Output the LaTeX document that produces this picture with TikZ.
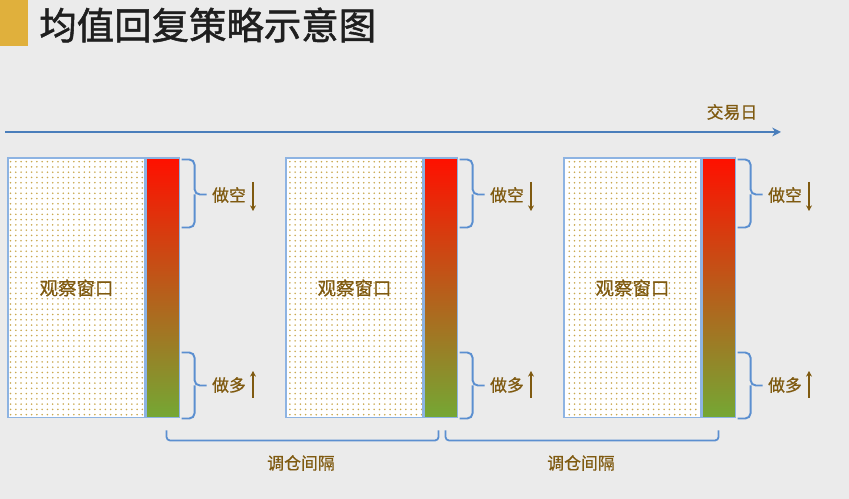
\documentclass[tikz,border=0pt]{standalone}
\usepackage{fontspec}
\setmainfont{Noto Sans CJK SC}[FakeBold=0.6]
\newfontfamily\titlefont{Noto Sans CJK SC}[FakeBold=1.4]
\usetikzlibrary{positioning,calc,arrows.meta,patterns}
\definecolor{bgGray}{HTML}{EBEBEB}
\definecolor{titleGold}{HTML}{E0B03C}
\definecolor{lineBlue}{HTML}{4A7EBB}
\definecolor{braceBlue}{HTML}{5B8FD0}
\definecolor{boxBlue}{HTML}{8DB3E2}
\definecolor{labelBrown}{HTML}{7F5A10}
\definecolor{dotGold}{HTML}{C9A84E}
\definecolor{barRed}{HTML}{FF1000}
\definecolor{barMid}{HTML}{AC6414}
\definecolor{barGreen}{HTML}{74A834}
\tikzset{
  winbox/.style={draw=boxBlue, line width=0.6pt, minimum width=2.74cm, minimum height=5.2cm,
    inner sep=0pt, preaction={fill=white}, pattern=dots, pattern color=dotGold,
    text=labelBrown, font=\fontsize{10.5}{12}\selectfont},
  barbox/.style={draw=boxBlue, line width=0.6pt, minimum width=0.66cm, minimum height=5.2cm,
    inner sep=0pt, top color=barRed, middle color=barMid, bottom color=barGreen},
  lbl/.style={text=labelBrown, font=\fontsize{9.6}{11}\selectfont, inner sep=1pt},
  sidebrace/.style={draw=braceBlue, line width=1.1pt, rounded corners=3pt},
  gapbracket/.style={draw=braceBlue, line width=1pt, rounded corners=2pt},
  tickarrow/.style={draw=labelBrown, line width=0.8pt, -{Stealth[length=3.2pt,width=3.4pt]}},
  timeline/.style={draw=lineBlue, line width=1.1pt, -{Stealth[length=5pt,width=5pt]}}
}
\begin{document}
\begin{tikzpicture}[x=0.02cm, y=-0.02cm]
  % Background
  \fill[bgGray] (0,0) rectangle (849,499);
  \useasboundingbox (0,0) rectangle (849,499);
  % Title
  \fill[titleGold] (0,0) rectangle (28,46);
  \node[anchor=west, text=black!88, font=\titlefont\fontsize{21.3}{25}\selectfont, inner sep=0pt] (title) at (39,25) {均值回复策略示意图};
  % Trading days
  \coordinate (tstart) at (5,132);
  \coordinate (tend) at (781,132);
  \draw[timeline] (tstart) -- (tend);
  \node[lbl] (tday) at (732,112) {交易日};
  % First window
  \node[winbox] (win1) at (76.5,288) {观察窗口};
  \node[barbox, right=0pt of win1] (bar1) {};
  \draw[sidebrace] ($(bar1.north east)+(2,2)$) -| ($(bar1.north east)+(15,37)$) -- ($(bar1.north east)+(27,37)$);
  \draw[sidebrace] ($(bar1.north east)+(2,70)$) -| ($(bar1.north east)+(15,37)$);
  \node[lbl] (short1) at (229,195) {做空};
  \draw[tickarrow] ($(short1)+(24,-13)$) -- ($(short1)+(24,16)$);
  \draw[sidebrace] ($(bar1.south east)+(2,-66)$) -| ($(bar1.south east)+(15,-33)$) -- ($(bar1.south east)+(27,-33)$);
  \draw[sidebrace] ($(bar1.south east)+(2,0)$) -| ($(bar1.south east)+(15,-33)$);
  \node[lbl] (long1) at (229,385) {做多};
  \draw[tickarrow] ($(long1)+(24,13)$) -- ($(long1)+(24,-14)$);
  % Second window
  \node[winbox] (win2) at (354.5,288) {观察窗口};
  \node[barbox, right=0pt of win2] (bar2) {};
  \draw[sidebrace] ($(bar2.north east)+(2,2)$) -| ($(bar2.north east)+(15,37)$) -- ($(bar2.north east)+(27,37)$);
  \draw[sidebrace] ($(bar2.north east)+(2,70)$) -| ($(bar2.north east)+(15,37)$);
  \node[lbl] (short2) at (507,195) {做空};
  \draw[tickarrow] ($(short2)+(24,-13)$) -- ($(short2)+(24,16)$);
  \draw[sidebrace] ($(bar2.south east)+(2,-66)$) -| ($(bar2.south east)+(15,-33)$) -- ($(bar2.south east)+(27,-33)$);
  \draw[sidebrace] ($(bar2.south east)+(2,0)$) -| ($(bar2.south east)+(15,-33)$);
  \node[lbl] (long2) at (507,385) {做多};
  \draw[tickarrow] ($(long2)+(24,13)$) -- ($(long2)+(24,-14)$);
  % Third window
  \node[winbox] (win3) at (632.5,288) {观察窗口};
  \node[barbox, right=0pt of win3] (bar3) {};
  \draw[sidebrace] ($(bar3.north east)+(2,2)$) -| ($(bar3.north east)+(15,37)$) -- ($(bar3.north east)+(27,37)$);
  \draw[sidebrace] ($(bar3.north east)+(2,70)$) -| ($(bar3.north east)+(15,37)$);
  \node[lbl] (short3) at (785,195) {做空};
  \draw[tickarrow] ($(short3)+(24,-13)$) -- ($(short3)+(24,16)$);
  \draw[sidebrace] ($(bar3.south east)+(2,-66)$) -| ($(bar3.south east)+(15,-33)$) -- ($(bar3.south east)+(27,-33)$);
  \draw[sidebrace] ($(bar3.south east)+(2,0)$) -| ($(bar3.south east)+(15,-33)$);
  \node[lbl] (long3) at (785,385) {做多};
  \draw[tickarrow] ($(long3)+(24,13)$) -- ($(long3)+(24,-14)$);
  % Rebalancing gaps
  \draw[gapbracket] ($(bar1.south)+(4,12)$) -- ($(bar1.south)+(4,22)$) -- ($(bar2.south)+(-2,22)$) -- ($(bar2.south)+(-2,12)$);
  \node[lbl] (gap1) at (301,463) {调仓间隔};
  \draw[gapbracket] ($(bar2.south)+(5,12)$) -- ($(bar2.south)+(5,22)$) -- ($(bar3.south)+(0,22)$) -- ($(bar3.south)+(0,12)$);
  \node[lbl] (gap2) at (581,463) {调仓间隔};
\end{tikzpicture}
\end{document}
